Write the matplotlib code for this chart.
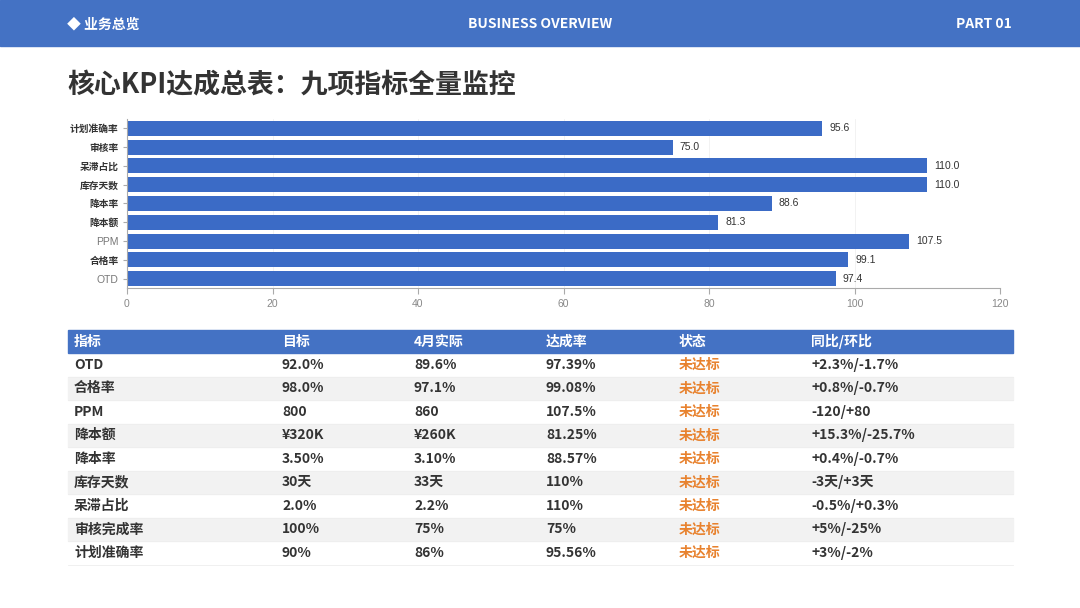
import matplotlib.pyplot as plt
from matplotlib.patches import Rectangle

plt.rcParams['font.family'] = ['Noto Sans CJK SC', 'DejaVu Sans']

# chart data (bottom to top)
bar_names = ["OTD", "合格率", "PPM", "降本额", "降本率", "库存天数", "呆滞占比", "审核率", "计划准确率"]
bar_values = [97.4, 99.1, 107.5, 81.3, 88.6, 110.0, 110.0, 75.0, 95.6]

# table data
col_names = ["指标", "目标", "4月实际", "达成率", "状态", "同比/环比"]
kpi_names = ["OTD", "合格率", "PPM", "降本额", "降本率", "库存天数", "呆滞占比", "审核完成率", "计划准确率"]
targets = ["92.0%", "98.0%", "800", "¥320K", "3.50%", "30天", "2.0%", "100%", "90%"]
actuals = ["89.6%", "97.1%", "860", "¥260K", "3.10%", "33天", "2.2%", "75%", "86%"]
rates = ["97.39%", "99.08%", "107.5%", "81.25%", "88.57%", "110%", "110%", "75%", "95.56%"]
status = ["未达标"] * 9
changes = ["+2.3%/-1.7%", "+0.8%/-0.7%", "-120/+80", "+15.3%/-25.7%", "+0.4%/-0.7%",
           "-3天/+3天", "-0.5%/+0.3%", "+5%/-25%", "+3%/-2%"]

W, H = 1080, 608
BLUE = "#4472C4"
BAR = "#3B6BC6"
DARK = "#333333"
ORANGE = "#E8822E"

fig = plt.figure(figsize=(W / 100, H / 100), dpi=100)
fig.patch.set_facecolor("white")

# overlay in pixel coordinates
bg = fig.add_axes([0, 0, 1, 1])
bg.set_xlim(0, W)
bg.set_ylim(H, 0)
bg.axis("off")

bg.add_patch(Rectangle((0, 0), W, 46, color=BLUE, zorder=1))
bg.text(67, 24, "◆ 业务总览", color="white", fontsize=10, fontweight="bold", va="center", ha="left")
bg.text(540, 24, "BUSINESS OVERVIEW", color="white", fontsize=10, fontweight="bold", va="center", ha="center")
bg.text(1012, 24, "PART 01", color="white", fontsize=10, fontweight="bold", va="center", ha="right")

bg.text(67, 85, "核心KPI达成总表：九项指标全量监控", color=DARK, fontsize=19.4,
        fontweight="bold", va="center", ha="left")

# table
tx0, tx1 = 68, 1013
head_top, head_h, row_h = 330, 23, 23.5
col_x = [74, 282, 414, 546, 679, 811]
bg.add_patch(Rectangle((tx0, head_top), tx1 - tx0, head_h, color=BLUE, zorder=1))
for x, name in zip(col_x, col_names):
    bg.text(x, head_top + head_h / 2, name, color="white", fontsize=10, fontweight="bold",
            va="center", ha="left", zorder=3)

rows = list(zip(kpi_names, targets, actuals, rates, status, changes))
for i, row in enumerate(rows):
    top = head_top + head_h + i * row_h
    if i % 2 == 1:
        bg.add_patch(Rectangle((tx0, top), tx1 - tx0, row_h, color="#F2F2F2", zorder=1))
    bg.plot([tx0, tx1], [top + row_h, top + row_h], color="#EEEEEE", lw=0.6, zorder=2)
    for j, (x, val) in enumerate(zip(col_x, row)):
        bg.text(x, top + row_h / 2, val, color=ORANGE if j == 4 else DARK, fontsize=10,
                fontweight="bold", va="center", ha="left", zorder=3)

# bar chart
ax = fig.add_axes([127 / W, 1 - 288 / H, 873 / W, 169 / H])
ypos = list(range(len(bar_names)))
ax.barh(ypos, bar_values, height=0.8, color=BAR, zorder=2)
for y, v in zip(ypos, bar_values):
    ax.text(v + 1.0, y, f"{v:.1f}", va="center", ha="left", fontsize=7.5, color=DARK,
            family=["Liberation Sans", "DejaVu Sans"])
ax.set_xlim(0, 120)
ax.set_ylim(-0.5, len(bar_names) - 0.5)
ax.set_xticks([0, 20, 40, 60, 80, 100, 120])
ax.set_yticks(ypos)
ax.set_yticklabels(bar_names)
for lab in ax.get_yticklabels():
    if lab.get_text().isascii():
        lab.set_color("#777777")
        lab.set_family(["Liberation Sans", "DejaVu Sans"])
        lab.set_fontsize(7.5)
    else:
        lab.set_color(DARK)
        lab.set_fontweight("bold")
        lab.set_fontsize(7)
for lab in ax.get_xticklabels():
    lab.set_color("#888888")
    lab.set_fontsize(7.5)
    lab.set_family(["Liberation Sans", "DejaVu Sans"])
ax.tick_params(axis="y", length=3, color="#AAAAAA", pad=3)
ax.tick_params(axis="x", length=4, color="#AAAAAA", pad=4)
ax.grid(axis="x", color="#F0F0F0", lw=0.6, zorder=0)
for side in ["top", "right"]:
    ax.spines[side].set_visible(False)
for side in ["left", "bottom"]:
    ax.spines[side].set_color("#AAAAAA")
    ax.spines[side].set_linewidth(0.8)

fig.savefig("out.png", dpi=100)
